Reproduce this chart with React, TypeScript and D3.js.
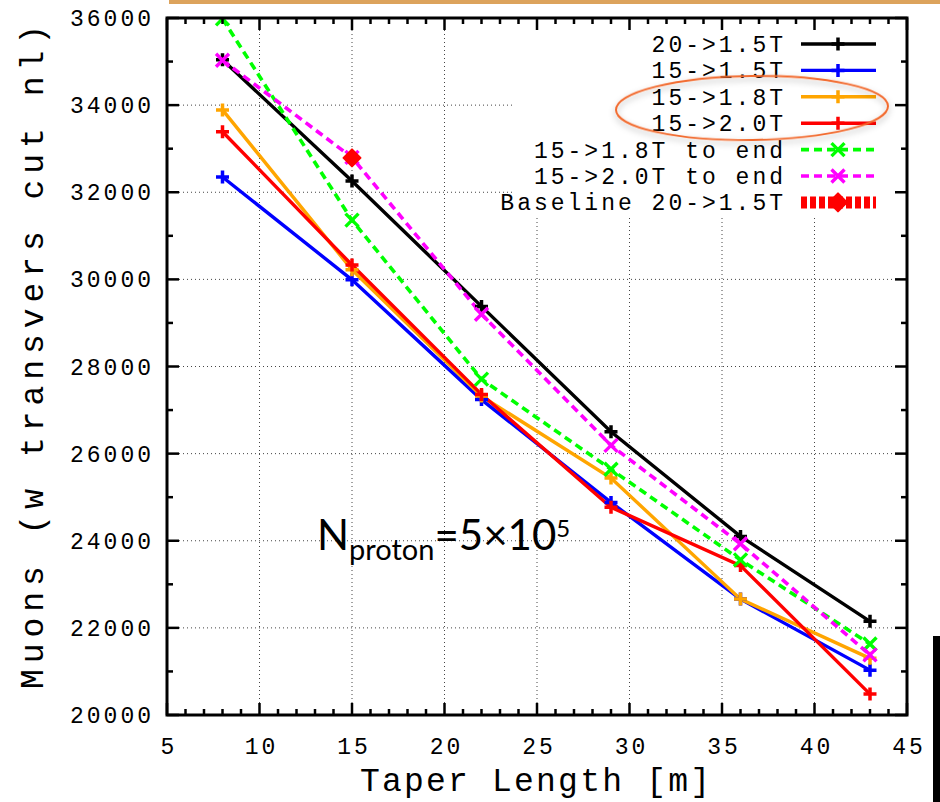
import React from "react";
import * as d3 from "d3";

const taperLengths = [8, 15, 22, 29, 36, 43];
const s20to15 = [35040, 32260, 29380, 26500, 24100, 22150];
const s15to15 = [32350, 29990, 27240, 24880, 22660, 21030];
const s15to18 = [33890, 30220, 27320, 25440, 22660, 21300];
const s15to20 = [33390, 30330, 27360, 24770, 23430, 20480];
const s15to18End = [35980, 31360, 27710, 25640, 23560, 21630];
const s15to20End = [35030, 32800, 29200, 26190, 23930, 21380];
const baselineX = [15];
const baselineY = [32790];

const seriesNames = [
  "20->1.5T",
  "15->1.5T",
  "15->1.8T",
  "15->2.0T",
  "15->1.8T to end",
  "15->2.0T to end",
  "Baseline 20->1.5T",
];
const xTicks = [5, 10, 15, 20, 25, 30, 35, 40, 45];
const yTicks = [20000, 22000, 24000, 26000, 28000, 30000, 32000, 34000, 36000];

const W = 940;
const H = 802;
const L = 167, R = 907, T = 18, B = 715;

const x = d3.scaleLinear().domain([5, 45]).range([L, R]);
const y = d3.scaleLinear().domain([20000, 36000]).range([B, T]);

type Series = { name: string; vals: number[]; color: string; dashed: boolean; marker: "plus" | "cross" };
const series: Series[] = [
  { name: seriesNames[0], vals: s20to15, color: "#000000", dashed: false, marker: "plus" },
  { name: seriesNames[1], vals: s15to15, color: "#0000ff", dashed: false, marker: "plus" },
  { name: seriesNames[2], vals: s15to18, color: "#ffa500", dashed: false, marker: "plus" },
  { name: seriesNames[3], vals: s15to20, color: "#ff0000", dashed: false, marker: "plus" },
  { name: seriesNames[4], vals: s15to18End, color: "#00ff00", dashed: true, marker: "cross" },
  { name: seriesNames[5], vals: s15to20End, color: "#ff00ff", dashed: true, marker: "cross" },
];

const mono = "'Liberation Mono', 'DejaVu Sans Mono', monospace";

function Marker({ cx, cy, kind, color }: { cx: number; cy: number; kind: string; color: string }) {
  if (kind === "plus") {
    const s = 6.5;
    return (
      <path d={`M${cx - s},${cy}H${cx + s}M${cx},${cy - s}V${cy + s}`} stroke={color} strokeWidth={3.5} fill="none" />
    );
  }
  const s = 6.5;
  return (
    <path d={`M${cx - s},${cy - s}L${cx + s},${cy + s}M${cx - s},${cy + s}L${cx + s},${cy - s}`} stroke={color} strokeWidth={3.4} fill="none" />
  );
}

function Diamond({ cx, cy, r, color }: { cx: number; cy: number; r: number; color: string }) {
  return <path d={`M${cx},${cy - r}L${cx + r},${cy}L${cx},${cy + r}L${cx - r},${cy}Z`} fill={color} stroke={color} strokeWidth={2} strokeLinejoin="round" />;
}

export default function App() {
  const line = d3.line<number>().x((_, i) => x(taperLengths[i])).y((v) => y(v));
  const xMinor = d3.range(5, 46, 1);
  const yMinor = d3.range(20000, 36001, 1000);
  const legendTextX = 786;
  const legendLineX1 = 801, legendLineX2 = 876, legendMarkX = 838;
  const legendY0 = 44, legendDY = 26.4;

  return (
    <svg width={W} height={H} style={{ position: "absolute", left: 0, top: 0, background: "#fff" }}>
      <defs>
        <filter id="shadow" x="-20%" y="-40%" width="140%" height="180%">
          <feDropShadow dx="0" dy="3" stdDeviation="3" floodColor="#000" floodOpacity="0.3" />
        </filter>
        <clipPath id="plotclip">
          <rect x={L} y={T} width={R - L} height={B - T} />
        </clipPath>
      </defs>
      {/* top orange bar */}
      <rect x={169} y={0} width={W - 169} height={4} fill="#dca35c" />

      {/* grid */}
      <g stroke="#444" strokeWidth={1} strokeDasharray="1,3">
        {xTicks.slice(1, -1).map((t) => (
          <line key={"gx" + t} x1={x(t)} x2={x(t)} y1={B - 12} y2={T + 12} />
        ))}
        {yTicks.slice(1, -1).map((t) => (
          <line key={"gy" + t} x1={L + 12} x2={R - 12} y1={y(t)} y2={y(t)} />
        ))}
      </g>
      {/* opaque key background */}
      <rect x={515} y={T + 2} width={R - 515 - 2} height={196} fill="#fff" />

      {/* series */}
      <g clipPath="url(#plotclip)">
        {series.map((s) => (
          <path
            key={s.name}
            d={line(s.vals) || ""}
            fill="none"
            stroke={s.color}
            strokeWidth={s.dashed ? 3.6 : 3.4}
            strokeDasharray={s.dashed ? "8,5" : undefined}
          />
        ))}
        {series.map((s) =>
          s.vals.map((v, i) => (
            <Marker key={s.name + i} cx={x(taperLengths[i])} cy={y(v)} kind={s.marker} color={s.color} />
          ))
        )}
        {baselineX.map((bx, i) => (
          <Diamond key={"b" + i} cx={x(bx)} cy={y(baselineY[i])} r={8.5} color="#ff0000" />
        ))}
      </g>

      {/* border */}
      <rect x={L} y={T} width={R - L} height={B - T} fill="none" stroke="#000" strokeWidth={3} />
      {/* ticks */}
      <g stroke="#000" strokeWidth={2.5}>
        {xMinor.map((t) => {
          const major = t % 5 === 0;
          const len = major ? 12 : 6;
          return (
            <g key={"xt" + t}>
              <line x1={x(t)} x2={x(t)} y1={B} y2={B - len} />
              <line x1={x(t)} x2={x(t)} y1={T} y2={T + len} />
            </g>
          );
        })}
        {yMinor.map((t) => {
          const major = t % 2000 === 0;
          const len = major ? 12 : 6;
          return (
            <g key={"yt" + t}>
              <line x1={L} x2={L + len} y1={y(t)} y2={y(t)} />
              <line x1={R} x2={R - len} y1={y(t)} y2={y(t)} />
            </g>
          );
        })}
      </g>

      {/* tick labels */}
      <g fontFamily={mono} fontSize={23} fill="#000" letterSpacing={3}>
        {yTicks.map((t) => (
          <text key={"yl" + t} x={154} y={y(t)} dy="0.35em" textAnchor="end">
            {t}
          </text>
        ))}
        {xTicks.map((t) => (
          <text key={"xl" + t} x={x(t) + 2} y={746} dy="0.35em" textAnchor="middle">
            {t}
          </text>
        ))}
      </g>

      {/* axis titles */}
      <text x={535} y={791} fontFamily={mono} fontSize={33} textAnchor="middle" textLength={350} lengthAdjust="spacing">
        Taper Length [m]
      </text>
      <text
        transform="translate(43,357) rotate(-90)"
        fontFamily={mono}
        fontSize={33}
        textAnchor="middle"
        textLength={664}
        lengthAdjust="spacing"
      >
        Muons (w transvers cut nl)
      </text>

      {/* legend */}
      <g fontFamily={mono} fontSize={23} letterSpacing={3}>
        {series.map((s, i) => {
          const ly = legendY0 + i * legendDY;
          return (
            <g key={"lg" + i}>
              <text x={legendTextX} y={ly} dy="0.35em" textAnchor="end">
                {s.name}
              </text>
              <line x1={legendLineX1} x2={legendLineX2} y1={ly} y2={ly} stroke={s.color} strokeWidth={s.dashed ? 3.6 : 3.4} strokeDasharray={s.dashed ? "8,5" : undefined} />
              <Marker cx={legendMarkX} cy={ly} kind={s.marker} color={s.color} />
            </g>
          );
        })}
        {(() => {
          const ly = legendY0 + 6 * legendDY;
          return (
            <g>
              <text x={legendTextX} y={ly} dy="0.35em" textAnchor="end">
                {seriesNames[6]}
              </text>
              <line x1={legendLineX1} x2={legendLineX2} y1={ly} y2={ly} stroke="#ff0000" strokeWidth={12} strokeDasharray="6,3" />
              <Diamond cx={legendMarkX} cy={ly} r={9} color="#ff0000" />
            </g>
          );
        })()}
      </g>

      {/* highlight ellipse */}
      <ellipse cx={752} cy={108} rx={136} ry={32} fill="none" stroke="#f26b2f" strokeWidth={2} filter="url(#shadow)" transform="rotate(-0.8,752,108)" />

      {/* annotation */}
      <text x={317} y={550} fontFamily="Lato, 'Open Sans', sans-serif" fontSize={42} fill="#000">
        N
        <tspan fontSize={29} dy={10}>proton</tspan>
        <tspan fontSize={42} dy={-10}>=5×10</tspan>
        <tspan fontSize={24} dy={-13}>5</tspan>
      </text>

      {/* right-edge black bar */}
      <rect x={933} y={636} width={7} height={166} fill="#000" />
    </svg>
  );
}
